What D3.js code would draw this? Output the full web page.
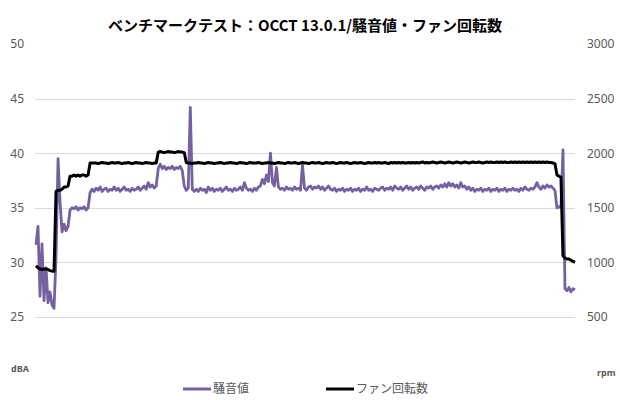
<!DOCTYPE html>
<html>
<head>
<meta charset="utf-8">
<script src="https://cdn.jsdelivr.net/npm/d3@7"></script>
<style>
    body { margin: 0; background: #fff; }
    .tick-label { font-family: "Noto Sans", "Open Sans", sans-serif; font-size: 12px; fill: #595959; }
    .unit-label { font-family: "Noto Sans", sans-serif; font-size: 9px; font-weight: bold; fill: #595959; }
    .title { font-family: "Noto Sans CJK JP", sans-serif; font-size: 15px; font-weight: bold; fill: #000; }
    .legend-label { font-family: "Noto Sans CJK JP", sans-serif; font-size: 12px; fill: #595959; }
</style>
</head>
<body>
<div id="chart"></div>
<script>

// **********************************************************
//                          Data
// **********************************************************

const title = "ベンチマークテスト：OCCT 13.0.1/騒音値・ファン回転数";
const seriesNames = ["騒音値", "ファン回転数"];

const dbaTicks = [25, 30, 35, 40, 45, 50];
const rpmTicks = [500, 1000, 1500, 2000, 2500, 3000];

// noise level (dBA), one sample per row entry
const noise = [
    31.6, 33.3, 26.9, 31.7, 26.5, 29.5, 26.3, 27.3, 26.1, 25.8,
    30.5, 39.5, 35.5, 32.8, 33.5, 32.9, 33.3, 34.8, 35.0, 34.9,
    35.1, 34.8, 35.0, 34.9, 35.1, 34.8, 35.0, 36.4, 36.7, 36.5,
    36.8, 36.6, 36.9, 36.5, 36.7, 36.8, 36.5, 36.7, 36.6, 36.9,
    36.6, 36.8, 36.5, 36.7, 36.9, 36.6, 36.7, 36.5, 36.8, 36.6,
    36.7, 36.9, 36.6, 36.8, 37.0, 36.7, 37.3, 36.9, 37.1, 36.8,
    37.0, 38.6, 39.0, 38.6, 38.8, 38.5, 38.7, 38.6, 38.8, 38.5,
    38.7, 38.6, 38.8, 38.4, 37.0, 36.6, 36.8, 44.2, 36.7, 36.5,
    36.7, 36.5, 36.8, 36.6, 36.7, 36.4, 36.9, 36.6, 36.8, 36.5,
    36.7, 36.6, 36.8, 36.5, 36.7, 36.9, 36.6, 36.7, 36.5, 36.8,
    36.6, 36.7, 36.9, 36.6, 37.3, 36.8, 36.6, 36.7, 36.5, 36.8,
    36.6, 36.9, 37.0, 37.6, 37.2, 38.0, 37.4, 40.0, 37.3, 37.0,
    38.7, 36.9, 36.7, 36.8, 36.6, 36.9, 36.7, 36.8, 36.6, 36.9,
    36.7, 36.8, 36.6, 38.9, 36.8, 36.6, 36.9, 37.0, 36.7, 36.9,
    36.8, 37.0, 36.7, 36.9, 36.6, 36.8, 37.0, 36.7, 36.6, 36.8,
    36.5, 36.7, 36.6, 36.8, 36.5, 36.7, 36.6, 36.8, 36.5, 36.7,
    36.6, 36.8, 36.5, 36.7, 36.6, 36.9, 36.6, 36.7, 36.5, 36.8,
    36.7, 36.6, 36.8, 36.9, 36.6, 36.8, 36.7, 36.9, 36.6, 37.0,
    36.8, 36.7, 36.9, 36.6, 36.8, 37.0, 36.7, 36.9, 36.6, 36.8,
    36.9, 36.7, 37.0, 36.8, 36.6, 36.9, 36.8, 37.0, 36.7, 36.9,
    37.0, 36.8, 37.1, 36.9, 37.2, 36.9, 37.3, 37.0, 37.2, 36.9,
    37.1, 36.8, 37.3, 36.9, 37.0, 36.7, 36.9, 36.6, 36.8, 36.5,
    36.7, 36.6, 36.8, 36.5, 36.7, 36.6, 36.8, 36.5, 36.7, 36.6,
    36.8, 36.5, 36.7, 36.6, 36.8, 36.5, 36.7, 36.6, 36.8, 36.6,
    36.7, 36.5, 36.8, 36.6, 36.9, 36.7, 36.6, 36.8, 36.7, 36.9,
    37.3, 36.9, 36.7, 37.0, 36.8, 37.1, 36.9, 37.0, 36.8, 36.6,
    35.0, 35.1, 35.0, 40.3, 27.6, 27.4, 27.7, 27.3, 27.6, 27.5
];

// fan speed (rpm)
const fan = [
    970, 950, 940, 935, 940, 940, 935, 925, 920, 920,
    1650, 1660, 1660, 1670, 1690, 1690, 1700, 1790, 1790, 1800,
    1790, 1800, 1790, 1800, 1800, 1790, 1800, 1910, 1910, 1910,
    1910, 1905, 1910, 1915, 1910, 1910, 1905, 1910, 1915, 1910,
    1910, 1915, 1910, 1905, 1910, 1910, 1915, 1910, 1905, 1910,
    1915, 1910, 1910, 1905, 1910, 1915, 1910, 1910, 1905, 1910,
    1910, 2010, 2015, 2010, 2005, 2010, 2015, 2010, 2010, 2005,
    2010, 2015, 2010, 2010, 2005, 1915, 1910, 1910, 1905, 1910,
    1910, 1915, 1910, 1910, 1905, 1910, 1915, 1910, 1910, 1905,
    1910, 1910, 1915, 1910, 1905, 1910, 1910, 1915, 1910, 1910,
    1905, 1910, 1915, 1910, 1910, 1905, 1910, 1915, 1910, 1910,
    1910, 1915, 1910, 1905, 1910, 1910, 1915, 1910, 1910, 1905,
    1910, 1915, 1910, 1910, 1905, 1910, 1915, 1910, 1910, 1915,
    1910, 1905, 1910, 1915, 1910, 1910, 1905, 1910, 1915, 1910,
    1910, 1915, 1910, 1905, 1910, 1915, 1910, 1910, 1915, 1910,
    1905, 1910, 1915, 1910, 1910, 1915, 1910, 1905, 1910, 1915,
    1910, 1910, 1915, 1910, 1905, 1910, 1915, 1910, 1910, 1915,
    1910, 1915, 1910, 1910, 1915, 1910, 1905, 1915, 1910, 1915,
    1910, 1915, 1910, 1915, 1910, 1910, 1915, 1910, 1915, 1910,
    1915, 1910, 1915, 1920, 1910, 1915, 1910, 1915, 1920, 1915,
    1910, 1915, 1920, 1915, 1910, 1915, 1920, 1915, 1910, 1915,
    1920, 1915, 1910, 1915, 1920, 1915, 1910, 1915, 1920, 1915,
    1915, 1920, 1915, 1910, 1915, 1920, 1915, 1920, 1915, 1915,
    1920, 1915, 1920, 1915, 1920, 1915, 1915, 1920, 1915, 1920,
    1915, 1920, 1915, 1920, 1915, 1920, 1915, 1920, 1915, 1920,
    1915, 1920, 1915, 1920, 1915, 1920, 1915, 1915, 1910, 1905,
    1800, 1790, 1780, 1060, 1040, 1030, 1030, 1020, 1010, 1000
];


// **********************************************************
//                      Definitions
// **********************************************************

const width = 620;
const height = 400;

const noiseColor = "#7461a2";
const fanColor = "#000000";

const xScale = d3.scaleLinear()
    .domain([0, noise.length - 1])
    .range([36, 575]);

const yLeft = d3.scaleLinear()
    .domain([25, 50])
    .range([317, 44]);

const yRight = d3.scaleLinear()
    .domain([500, 3000])
    .range([317, 44]);

const noiseLine = d3.line()
    .x((d, i) => xScale(i))
    .y((d) => yLeft(d));

const fanLine = d3.line()
    .x((d, i) => xScale(i))
    .y((d) => yRight(d));


// **********************************************************
//                         Drawing
// **********************************************************

const svg = d3.select("#chart")
    .append("svg")
    .attr("width", width)
    .attr("height", height);

// gridlines (no line at the top value)
svg.selectAll(".grid")
    .data(dbaTicks.slice(0, -1))
    .enter()
    .append("line")
    .attr("class", "grid")
    .attr("x1", 35)
    .attr("x2", 575)
    .attr("y1", (d) => Math.round(yLeft(d)) + 0.5)
    .attr("y2", (d) => Math.round(yLeft(d)) + 0.5)
    .style("stroke", "#d9d9d9")
    .style("stroke-width", 1);

// left axis
const leftAxis = svg.append("g")
    .attr("transform", "translate(24,0)")
    .call(d3.axisLeft(yLeft).tickValues(dbaTicks).tickSize(0).tickPadding(0));
leftAxis.select(".domain").remove();
leftAxis.selectAll("text").attr("class", "tick-label").attr("fill", null).attr("font-size", null).attr("font-family", null);

// right axis (plain numbers, no thousands separator)
const rightAxis = svg.append("g")
    .attr("transform", "translate(587,0)")
    .call(d3.axisRight(yRight).tickValues(rpmTicks).tickFormat(d3.format("d")).tickSize(0).tickPadding(0));
rightAxis.select(".domain").remove();
rightAxis.selectAll("text").attr("class", "tick-label").attr("fill", null).attr("font-size", null).attr("font-family", null);

// unit labels
svg.append("text")
    .attr("class", "unit-label")
    .attr("x", 11)
    .attr("y", 372)
    .text("dBA");

svg.append("text")
    .attr("class", "unit-label")
    .attr("x", 597)
    .attr("y", 376)
    .text("rpm");

// series
svg.append("path")
    .datum(noise)
    .attr("d", noiseLine)
    .style("fill", "none")
    .style("stroke", noiseColor)
    .style("stroke-width", 2.8)
    .style("stroke-linejoin", "round");

svg.append("path")
    .datum(fan)
    .attr("d", fanLine)
    .style("fill", "none")
    .style("stroke", fanColor)
    .style("stroke-width", 3)
    .style("stroke-linejoin", "round");

// title
svg.append("text")
    .attr("class", "title")
    .attr("x", 305)
    .attr("y", 31)
    .attr("text-anchor", "middle")
    .text(title);

// legend
const legendItems = [
    { name: seriesNames[0], color: noiseColor, x: 183 },
    { name: seriesNames[1], color: fanColor, x: 326 }
];

const legend = svg.selectAll(".legend")
    .data(legendItems)
    .enter()
    .append("g")
    .attr("class", "legend")
    .attr("transform", (d) => "translate(" + d.x + ",389)");

legend.append("line")
    .attr("x1", 0)
    .attr("x2", 28)
    .style("stroke", (d) => d.color)
    .style("stroke-width", 3);

legend.append("text")
    .attr("class", "legend-label")
    .attr("x", 30)
    .attr("y", 4)
    .text((d) => d.name);

</script>
</body>
</html>
